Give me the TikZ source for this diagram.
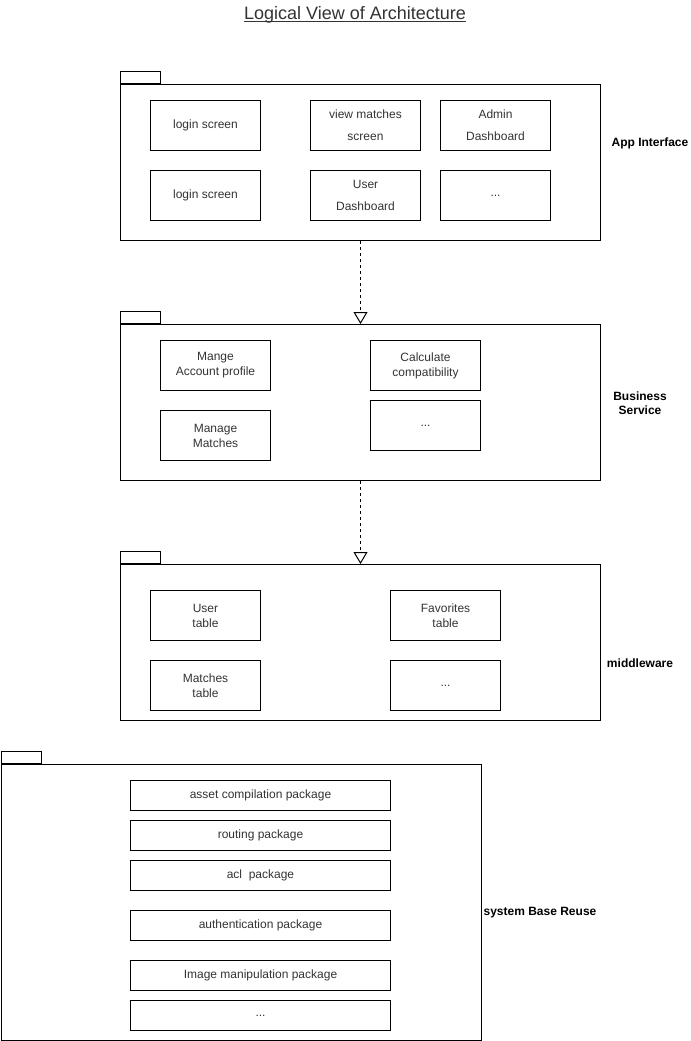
\documentclass[tikz,border=0pt]{standalone}
\usepackage{fontspec}
\setmainfont{Liberation Sans}
\usetikzlibrary{arrows.meta,positioning}
\definecolor{inkGray}{HTML}{333333}

\begin{document}
\begin{tikzpicture}[
  x=0.75pt, y=-0.75pt,
  every node/.style={font=\fontsize{9}{11.25}\selectfont, align=center, text=inkGray},
  pkgbody/.style={draw, line width=0.75pt, anchor=north west, inner sep=0pt, minimum width=360pt},
  pkgtab/.style={draw, line width=0.75pt, anchor=south west, inner sep=0pt, minimum width=30pt, minimum height=9pt},
  comp/.style={draw, line width=0.75pt, anchor=north west, inner sep=0pt, minimum width=82.5pt, minimum height=37.5pt},
  wide/.style={comp, minimum width=195pt, minimum height=22.5pt},
  loose/.style={font=\fontsize{9}{16.5}\selectfont},
  layer/.style={font=\fontsize{9}{10.5}\selectfont\bfseries, text=black},
  realizes/.style={dash pattern=on 2.25pt off 2.25pt, line width=0.75pt, -{Triangle[open, length=9pt, width=10.5pt, fill=white]}}
]
\useasboundingbox (0,0) rectangle (691,1041);

% Titulo
\node[font=\fontsize{13.5}{16}\selectfont, inner sep=0pt] (title) at (355,15) {Logical View of Architecture};
\draw[inkGray, line width=0.75pt] ([yshift=-1.6pt]title.base west) -- ([yshift=-1.6pt]title.base east);

% Paquete: App Interface
\node[pkgbody, minimum height=117pt] (app) at (120,84) {};
\node[pkgtab] (appTab) at (app.north west) {};
\node[comp] (login1) at (150,100) {login screen};
\node[comp, loose] (viewMatch) at (310,100) {view matches\\screen};
\node[comp, loose] (admin) at (440,100) {Admin\\Dashboard};
\node[comp] (login2) at (150,170) {login screen};
\node[comp, loose] (userDash) at (310,170) {User\\Dashboard};
\node[comp] (appMore) at (440,170) {...};
\node[layer] (appLbl) at (650,143) {App Interface};

% Paquete: Business Service
\node[pkgbody, minimum height=117pt] (biz) at (120,324) {};
\node[pkgtab] (bizTab) at (biz.north west) {};
\node[comp] (account) at (160,340) {Mange\\Account profile};
\node[comp] (manageMatch) at (160,410) {Manage\\Matches};
\node[comp] (compat) at (370,340) {Calculate\\compatibility};
\node[comp] (bizMore) at (370,400) {...};
\node[layer] (bizLbl) at (640,403) {Business\\Service};

% Paquete: middleware
\node[pkgbody, minimum height=117pt] (mid) at (120,564) {};
\node[pkgtab] (midTab) at (mid.north west) {};
\node[comp] (userTbl) at (150,590) {User\\table};
\node[comp] (matchTbl) at (150,660) {Matches\\table};
\node[comp] (favTbl) at (390,590) {Favorites\\table};
\node[comp] (midMore) at (390,660) {...};
\node[layer] (midLbl) at (640,663) {middleware};

% Paquete: system Base Reuse
\node[pkgbody, minimum height=207pt] (base) at (0.5,764) {};
\node[pkgtab] (baseTab) at (base.north west) {};
\node[wide] (asset) at (130,780) {asset compilation package};
\node[wide] (routing) at (130,820) {routing package};
\node[wide] (acl) at (130,860) {acl~~package};
\node[wide] (auth) at (130,910) {authentication package};
\node[wide] (image) at (130,960) {Image manipulation package};
\node[wide] (baseMore) at (130,1000) {...};
\node[layer] (baseLbl) at (540,913) {system Base Reuse};

% Dependencias
\draw[realizes] (app.south) -- (biz.north);
\draw[realizes] (biz.south) -- (mid.north);
\end{tikzpicture}
\end{document}
